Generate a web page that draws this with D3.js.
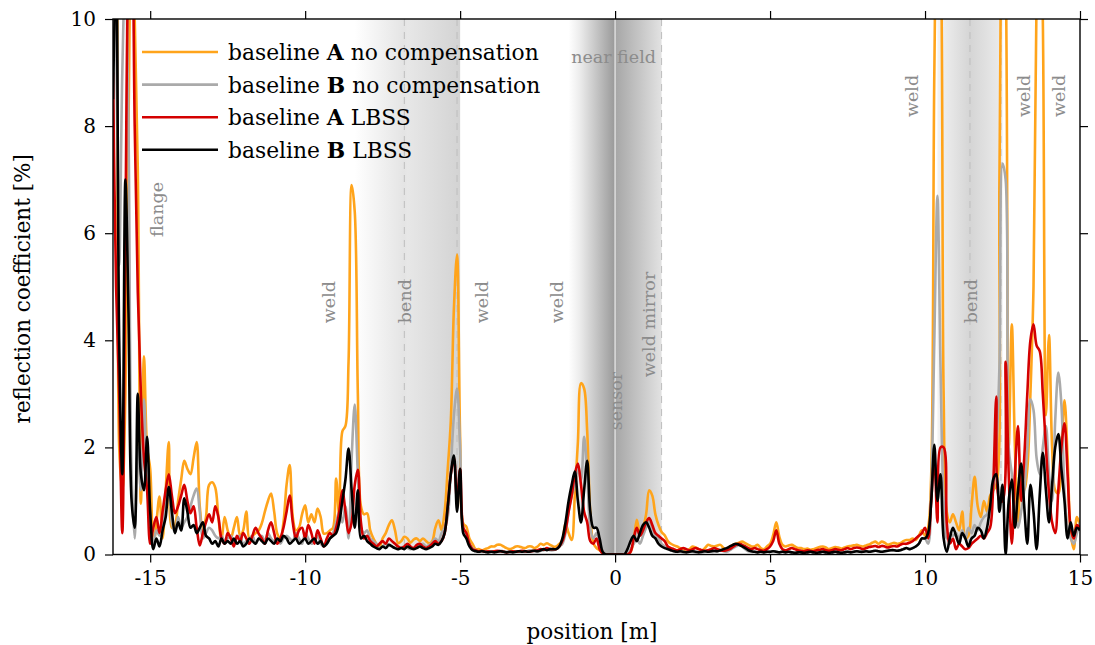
<!DOCTYPE html>
<html>
<head>
<meta charset="utf-8">
<script src="https://cdn.jsdelivr.net/npm/d3@7"></script>
<style>
body { margin: 0; background: #fff; }
svg { display: block; font-family: "DejaVu Serif", serif; }
</style>
</head>
<body>
<svg width="1095" height="645"></svg>
<script>
// sampled every 0.1 m, starting at -16.2 m
const xStart = -16.2
const xStep = 0.1

// baseline A, no compensation (orange)
const noCompA = [
  11, 12,
  2.0, 1.2, 3.0, 8, 12, 10, 7.2, 0.95, 3.7, 2.0,
  1.6, 0.15, 0.6, 1.08, 0.3, 1.2, 2.1, 0.5, 0.55, 1.0,
  1.4, 1.75, 1.6, 1.5, 1.8, 2.1, 0.9, 0.45, 0.7, 1.3,
  1.35, 1.25, 0.7, 0.27, 0.7, 0.45, 0.3, 0.5, 0.7, 0.35,
  0.45, 0.8, 0.3, 0.35, 0.4, 0.45, 0.58, 0.8, 1.0, 1.14,
  0.8, 0.39, 0.3, 0.6, 1.3, 1.67, 0.7, 0.45, 0.5, 0.75,
  0.92, 0.6, 0.75, 0.6, 0.86, 0.7, 0.39, 0.4, 0.45, 0.5,
  1.42, 0.7, 2.3, 2.4, 3.6, 6.9, 6.4, 3.0, 0.9, 0.75,
  0.77, 0.45, 0.3, 0.2, 0.15, 0.3, 0.4, 0.55, 0.64, 0.45,
  0.21, 0.25, 0.33, 0.3, 0.22, 0.28, 0.3, 0.25, 0.3, 0.25,
  0.21, 0.25, 0.5, 0.64, 0.46, 0.8, 1.6, 2.5, 4.6, 5.6,
  2.2, 0.58, 0.52, 0.3, 0.2, 0.1, 0.1, 0.08, 0.1, 0.12,
  0.15, 0.15, 0.18, 0.18, 0.15, 0.12, 0.1, 0.12, 0.15, 0.15,
  0.13, 0.12, 0.15, 0.15, 0.12, 0.15, 0.2, 0.18, 0.21, 0.18,
  0.15, 0.15, 0.2, 0.27, 0.58, 0.4, 0.27, 1.1, 2.1, 3.2,
  3.1, 2.3, 0.77, 0.21, 0.12, 0.08, 0.03, 0, 0, 0,
  0, 0, 0, 0, 0, 0.05, 0.25, 0.65, 0.4, 0.5,
  0.75, 1.2, 1.1, 0.75, 0.55, 0.42, 0.36, 0.25, 0.2, 0.17,
  0.15, 0.12, 0.1, 0.08, 0.1, 0.15, 0.13, 0.1, 0.08, 0.12,
  0.18, 0.16, 0.15, 0.17, 0.18, 0.12, 0.1, 0.14, 0.18, 0.2,
  0.22, 0.24, 0.21, 0.18, 0.15, 0.15, 0.18, 0.12, 0.1, 0.15,
  0.2, 0.36, 0.6, 0.33, 0.18, 0.15, 0.17, 0.18, 0.15, 0.12,
  0.12, 0.1, 0.11, 0.09, 0.1, 0.12, 0.14, 0.15, 0.13, 0.1,
  0.12, 0.14, 0.13, 0.11, 0.13, 0.15, 0.16, 0.17, 0.18, 0.16,
  0.15, 0.17, 0.19, 0.22, 0.24, 0.2, 0.24, 0.22, 0.18, 0.2,
  0.22, 0.2, 0.21, 0.25, 0.27, 0.27, 0.3, 0.27, 0.35, 0.45,
  0.35, 0.5, 1.5, 9, 12.5, 11.5, 3, 0.8, 0.6, 0.75,
  0.6, 0.45, 0.8, 0.3, 0.35, 0.9, 1.45, 0.9, 0.7, 1.0,
  0.8, 1.1, 1.2, 1.3, 7, 12.5, 11, 2.0, 4.3, 2.0,
  0.6, 1.5, 1.2, 1.6, 3.0, 5, 10.5, 12.5, 10, 2.6,
  4.1, 2.0, 1.2, 1.14, 2.0, 2.88, 1.8, 0.4, 0.1, 0.7,
  0.55
]

// baseline B, no compensation (grey)
const noCompB = [
  6, 11,
  5.4, 9, 11, 8, 1.5, 0.3, 2.0, 1.2, 2.9, 1.3,
  0.7, 0.2, 0.45, 0.35, 0.5, 0.9, 1.2, 0.6, 0.4, 0.7,
  0.5, 0.6, 0.7, 0.9, 1.1, 1.23, 0.8, 0.3, 0.4, 0.5,
  0.45, 0.35, 0.3, 0.35, 0.25, 0.3, 0.35, 0.25, 0.3, 0.35,
  0.2, 0.25, 0.3, 0.35, 0.2, 0.3, 0.35, 0.25, 0.4, 0.3,
  0.25, 0.3, 0.2, 0.3, 0.35, 0.3, 0.25, 0.4, 0.3, 0.2,
  0.4, 0.3, 0.2, 0.25, 0.35, 0.2, 0.15, 0.2, 0.3, 0.4,
  0.6, 0.8, 0.6, 0.9, 0.3, 1.8, 2.8, 1.5, 0.5, 0.4,
  0.45, 0.3, 0.25, 0.2, 0.12, 0.15, 0.2, 0.18, 0.15, 0.12,
  0.1, 0.12, 0.15, 0.12, 0.1, 0.12, 0.15, 0.18, 0.2, 0.15,
  0.18, 0.22, 0.3, 0.25, 0.4, 0.5, 0.7, 1.6, 2.6, 3.1,
  2.0, 0.5, 0.4, 0.2, 0.12, 0.08, 0.05, 0.06, 0.05, 0.04,
  0.05, 0.06, 0.05, 0.07, 0.06, 0.05, 0.04, 0.05, 0.06, 0.05,
  0.06, 0.05, 0.07, 0.08, 0.06, 0.05, 0.07, 0.08, 0.1, 0.08,
  0.08, 0.1, 0.15, 0.2, 0.4, 0.8, 1.1, 1.3, 1.6, 1.4,
  2.2, 1.5, 0.5, 0.3, 0.4, 0.2, 0.05, 0, 0, 0,
  0, 0, 0, 0, 0, 0.1, 0.2, 0.3, 0.2, 0.35,
  0.5, 0.62, 0.5, 0.35, 0.3, 0.2, 0.15, 0.1, 0.08, 0.06,
  0.05, 0.05, 0.04, 0.05, 0.06, 0.05, 0.04, 0.05, 0.04, 0.05,
  0.06, 0.05, 0.05, 0.06, 0.08, 0.06, 0.05, 0.08, 0.12, 0.15,
  0.18, 0.15, 0.1, 0.06, 0.05, 0.05, 0.04, 0.05, 0.04, 0.05,
  0.05, 0.06, 0.05, 0.04, 0.05, 0.04, 0.05, 0.04, 0.03, 0.04,
  0.04, 0.03, 0.04, 0.05, 0.04, 0.03, 0.04, 0.05, 0.04, 0.03,
  0.04, 0.05, 0.04, 0.03, 0.04, 0.05, 0.04, 0.05, 0.06, 0.05,
  0.05, 0.06, 0.05, 0.06, 0.07, 0.06, 0.05, 0.06, 0.07, 0.08,
  0.08, 0.07, 0.08, 0.1, 0.12, 0.1, 0.12, 0.15, 0.2, 0.3,
  0.3, 0.2, 1.2, 4.0, 6.7, 3.5, 1.0, 0.3, 0.4, 0.35,
  0.4, 0.3, 0.45, 0.3, 0.5, 0.4, 0.55, 0.45, 0.6, 0.7,
  0.75, 0.9, 1.2, 2.0, 3.5, 7.3, 7.0, 2.0, 1.5, 0.8,
  0.5, 0.8, 1.2, 2.0, 2.9, 2.7, 1.8, 1.5, 2.0, 2.4,
  1.5, 1.0, 2.5, 3.4, 2.8, 1.2, 0.5, 0.3, 0.2, 0.4,
  0.6
]

// baseline A, LBSS (red)
const lbssA = [
  9, 5,
  3, 0.4, 6, 11, 12, 8, 4.9, 3.0, 1.8, 1.2,
  0.2, 0.5, 0.7, 0.4, 0.8, 1.2, 1.5, 1.1, 0.77, 0.9,
  1.1, 1.3, 1.0, 0.77, 0.9, 0.5, 0.17, 0.4, 0.6, 0.75,
  0.6, 0.9, 0.7, 0.3, 0.2, 0.4, 0.3, 0.15, 0.35, 0.25,
  0.4, 0.3, 0.2, 0.35, 0.5, 0.39, 0.3, 0.2, 0.45, 0.6,
  0.4, 0.2, 0.3, 0.5, 0.8, 1.1, 0.6, 0.3, 0.45, 0.5,
  0.3, 0.55, 0.4, 0.2, 0.45, 0.3, 0.15, 0.3, 0.4, 0.35,
  0.5, 0.8, 1.2, 0.8, 0.4, 0.6, 1.3, 1.58, 0.6, 0.3,
  0.35, 0.25, 0.2, 0.15, 0.2, 0.25, 0.2, 0.3, 0.25, 0.2,
  0.15, 0.12, 0.15, 0.2, 0.15, 0.12, 0.18, 0.2, 0.15, 0.12,
  0.15, 0.2, 0.25, 0.2, 0.25, 0.4, 0.9, 1.5, 1.8, 1.0,
  1.6, 0.5, 0.4, 0.2, 0.1, 0.08, 0.06, 0.07, 0.05, 0.06,
  0.05, 0.06, 0.07, 0.06, 0.05, 0.04, 0.05, 0.06, 0.05, 0.06,
  0.07, 0.06, 0.05, 0.06, 0.07, 0.08, 0.1, 0.09, 0.12, 0.1,
  0.1, 0.1, 0.15, 0.25, 0.45, 0.8, 1.1, 1.5, 1.7, 1.3,
  0.8, 0.6, 0.25, 0.2, 0.3, 0.1, 0.02, 0, 0, 0,
  0, 0, 0, 0, 0, 0.05, 0.3, 0.5, 0.35, 0.45,
  0.6, 0.68, 0.55, 0.4, 0.35, 0.3, 0.25, 0.15, 0.12, 0.1,
  0.08, 0.1, 0.12, 0.1, 0.08, 0.1, 0.12, 0.1, 0.08, 0.07,
  0.08, 0.1, 0.12, 0.1, 0.08, 0.07, 0.08, 0.1, 0.14, 0.18,
  0.2, 0.18, 0.15, 0.12, 0.1, 0.12, 0.1, 0.08, 0.07, 0.1,
  0.15, 0.25, 0.45, 0.2, 0.1, 0.08, 0.1, 0.12, 0.1, 0.08,
  0.07, 0.06, 0.08, 0.07, 0.06, 0.08, 0.09, 0.1, 0.08, 0.07,
  0.08, 0.1, 0.09, 0.08, 0.1, 0.12, 0.1, 0.12, 0.13, 0.12,
  0.1, 0.12, 0.14, 0.15, 0.16, 0.14, 0.16, 0.15, 0.13, 0.15,
  0.16, 0.15, 0.18, 0.2, 0.2, 0.22, 0.25, 0.3, 0.35, 0.4,
  0.5, 0.3, 1.0, 1.8, 0.6, 2.0, 2.0, 0.6, 0.2, 0.3,
  0.1, 0.2, 0.15, 0.1, 0.12, 0.2, 0.25, 0.3, 0.35, 0.3,
  0.4, 0.5, 1.3, 2.95, 1.0, 1.0, 3.6, 1.5, 0.2, 1.5,
  2.4, 1.0, 1.8, 3.0, 4.0, 4.3, 3.9, 3.8, 3.0, 2.0,
  1.14, 0.6, 0.4, 1.2, 2.0, 2.45, 1.5, 0.5, 0.3, 0.55,
  0.5
]

// baseline B, LBSS (black)
const lbssB = [
  8.5, 11,
  4.0, 1.5, 7.0, 4.5, 1.0, 0.5, 3.0, 1.5, 1.2, 2.2,
  0.8, 0.1, 0.3, 0.15, 0.45, 0.7, 1.26, 0.8, 0.4, 0.6,
  0.45, 1.05, 0.8, 0.5, 0.55, 0.4, 0.5, 0.6, 0.35, 0.3,
  0.2, 0.25, 0.15, 0.3, 0.2, 0.25, 0.2, 0.3, 0.2, 0.25,
  0.15, 0.2, 0.3, 0.25, 0.2, 0.3, 0.25, 0.2, 0.3, 0.25,
  0.2, 0.3, 0.25, 0.35, 0.3, 0.2, 0.25, 0.3, 0.2, 0.25,
  0.3, 0.2, 0.25, 0.3, 0.2, 0.25, 0.15, 0.2, 0.3, 0.35,
  0.4, 0.6, 1.0, 1.4, 1.98, 1.2, 0.5, 1.2, 0.3, 0.35,
  0.25, 0.2, 0.15, 0.12, 0.1, 0.15, 0.12, 0.18, 0.15, 0.12,
  0.1, 0.12, 0.1, 0.15, 0.12, 0.1, 0.12, 0.15, 0.12, 0.1,
  0.12, 0.15, 0.2, 0.18, 0.25, 0.4, 0.9, 1.5, 1.85, 0.8,
  1.6, 0.4, 0.3, 0.15, 0.08, 0.06, 0.05, 0.06, 0.05, 0.04,
  0.05, 0.04, 0.05, 0.06, 0.05, 0.04, 0.05, 0.04, 0.05, 0.06,
  0.05, 0.06, 0.05, 0.06, 0.07, 0.06, 0.08, 0.1, 0.08, 0.1,
  0.1, 0.1, 0.15, 0.3, 0.6, 1.0, 1.3, 1.55, 1.0, 0.6,
  1.2, 1.75, 0.8, 0.5, 0.5, 0.3, 0.05, 0, 0, 0,
  0, 0, 0, 0, 0.1, 0.25, 0.35, 0.25, 0.4, 0.55,
  0.6, 0.5, 0.35, 0.3, 0.2, 0.15, 0.12, 0.1, 0.08, 0.06,
  0.05, 0.06, 0.05, 0.04, 0.05, 0.06, 0.05, 0.04, 0.05, 0.06,
  0.05, 0.06, 0.07, 0.06, 0.08, 0.1, 0.12, 0.15, 0.18, 0.2,
  0.18, 0.15, 0.12, 0.08, 0.06, 0.05, 0.04, 0.05, 0.04, 0.05,
  0.05, 0.06, 0.05, 0.04, 0.05, 0.04, 0.05, 0.04, 0.03, 0.04,
  0.04, 0.03, 0.04, 0.05, 0.04, 0.03, 0.04, 0.05, 0.04, 0.03,
  0.04, 0.05, 0.04, 0.03, 0.04, 0.05, 0.04, 0.05, 0.06, 0.05,
  0.05, 0.06, 0.05, 0.06, 0.07, 0.06, 0.05, 0.06, 0.07, 0.08,
  0.08, 0.07, 0.08, 0.1, 0.12, 0.1, 0.12, 0.15, 0.2, 0.3,
  0.3, 0.4, 1.0, 2.05, 1.0, 1.5, 0.3, 0.05, 0.3, 0.5,
  0.35, 0.2, 0.4, 0.3, 0.15, 0.3, 0.35, 0.5, 0.45, 0.3,
  0.5, 0.9, 1.4, 1.5, 0.8, 1.3, 0.0, 1.0, 1.4, 0.5,
  1.2, 1.7, 0.9, 0.2, 1.3, 0.8, 0.1, 1.1, 1.9, 1.2,
  0.6, 1.3, 2.0, 2.25, 1.6, 1.0, 0.3, 0.6, 0.35, 0.5,
  0.45
]

const xTicks = [-15, -10, -5, 0, 5, 10, 15]
const yTicks = [0, 2, 4, 6, 8, 10]

// shaded zones [from, to] in metres
const bendZone1 = [-8.4, -5.0]
const nearField = [-1.5, 1.5]
const bendZone2 = [10.4, 12.5]
const dashedMarks = [-6.8, -5.1, 1.5, 11.45, 12.45]

// rotated feature labels: text, position [m], lower end [%]
const featureText = ['flange', 'weld', 'bend', 'weld', 'weld', 'sensor', 'weld mirror', 'weld', 'bend', 'weld', 'weld']
const featureX = [-14.6, -9.03, -6.6, -4.1, -1.68, 0.22, 1.29, 9.77, 11.68, 13.39, 14.52]
const featureY = [5.93, 4.32, 4.32, 4.32, 4.32, 2.32, 3.31, 8.17, 4.32, 8.17, 8.17]

const positions = noCompA.map((d, i) => +(xStart + i * xStep).toFixed(2))

const series = [
    { key: 'A', text: ' no compensation', values: noCompA, color: '#ffa41b' },
    { key: 'B', text: ' no compensation', values: noCompB, color: '#aaaaaa' },
    { key: 'A', text: ' LBSS', values: lbssA, color: '#d40000' },
    { key: 'B', text: ' LBSS', values: lbssB, color: '#000000' }
]

const svg = d3.select('svg')
const margin = { top: 19, right: 15, bottom: 90.5, left: 113 }
const width = svg.attr('width') - margin.left - margin.right
const height = svg.attr('height') - margin.top - margin.bottom

const x = d3.scaleLinear().domain([-16.2, 15]).range([0, width])
const y = d3.scaleLinear().domain([0, 10]).range([height, 0])

const defs = svg.append('defs')
defs.append('clipPath').attr('id', 'plot-clip')
    .append('rect').attr('width', width).attr('height', height)

const gradient = (id, stops) => {
    const lg = defs.append('linearGradient').attr('id', id)
        .attr('x1', 0).attr('x2', 1).attr('y1', 0).attr('y2', 0)
    stops.forEach(s => lg.append('stop').attr('offset', s[0]).attr('stop-color', s[1]))
}
gradient('bend1', [[0, '#ffffff'], [0.47, '#e4e4e4'], [0.5, '#e7e7e7'], [1, '#d3d3d3']])
gradient('near', [[0, '#ffffff'], [0.12, '#ececec'], [0.49, '#9b9b9b'], [0.5, '#a6a6a6'], [1, '#e2e2e2']])
gradient('bend2', [[0, '#f3f3f3'], [0.5, '#d5d5d5'], [1, '#ececec']])

const g = svg.append('g').attr('transform', `translate(${margin.left},${margin.top})`)

const zones = g.append('g').attr('clip-path', 'url(#plot-clip)')
;[[bendZone1, 'bend1'], [nearField, 'near'], [bendZone2, 'bend2']].forEach(([z, id]) => {
    zones.append('rect')
        .attr('x', x(z[0])).attr('width', x(z[1]) - x(z[0]))
        .attr('y', 0).attr('height', height)
        .attr('fill', `url(#${id})`)
})
zones.append('line')
    .attr('x1', x(0)).attr('x2', x(0)).attr('y1', 0).attr('y2', height)
    .attr('stroke', '#dcdcdc').attr('stroke-width', 1.5)
zones.selectAll('.dash')
    .data(dashedMarks)
    .enter().append('line')
    .attr('class', 'dash')
    .attr('x1', d => x(d)).attr('x2', d => x(d))
    .attr('y1', 0).attr('y2', height)
    .attr('stroke', '#bdbdbd').attr('stroke-width', 1)
    .attr('stroke-dasharray', '7,6')

// the zones are hidden below the LBSS curve
const curve = d3.curveCatmullRom.alpha(0.5)
zones.append('path')
    .attr('d', d3.area()
        .x((d, i) => x(positions[i]))
        .y0(height)
        .y1(d => y(d))
        .curve(curve)(lbssB))
    .attr('fill', '#fff')

// feature labels
g.selectAll('.feature')
    .data(featureText)
    .enter().append('text')
    .attr('class', 'feature')
    .attr('transform', (d, i) => `translate(${x(featureX[i])},${y(featureY[i])}) rotate(-90)`)
    .attr('fill', '#8c8c8c')
    .attr('font-size', 17.5)
    .text(d => d)

g.append('text')
    .attr('x', x(-0.05)).attr('y', y(9.18))
    .attr('text-anchor', 'middle')
    .attr('fill', '#8c8c8c')
    .attr('font-size', 17.5)
    .text('near field')

// curves
const line = d3.line()
    .x((d, i) => x(positions[i]))
    .y(d => y(d))
    .curve(curve)

const curves = g.append('g').attr('clip-path', 'url(#plot-clip)')
curves.selectAll('.curve')
    .data(series)
    .enter().append('path')
    .attr('class', 'curve')
    .attr('d', d => line(d.values))
    .attr('fill', 'none')
    .attr('stroke', d => d.color)
    .attr('stroke-width', 2.6)
    .attr('stroke-linejoin', 'round')

// frame and ticks on all four sides
g.append('rect')
    .attr('width', width).attr('height', height)
    .attr('fill', 'none').attr('stroke', '#000').attr('stroke-width', 1.4)

const tickLen = 8
g.append('g').attr('transform', `translate(0,${height})`)
    .call(d3.axisBottom(x).tickValues(xTicks).tickSize(tickLen).tickPadding(8).tickFormat(d3.format('d')))
g.append('g')
    .call(d3.axisTop(x).tickValues(xTicks).tickSize(tickLen).tickFormat(''))
g.append('g')
    .call(d3.axisLeft(y).tickValues(yTicks).tickSize(tickLen).tickPadding(9).tickFormat(d3.format('d')))
g.append('g').attr('transform', `translate(${width},0)`)
    .call(d3.axisRight(y).tickValues(yTicks).tickSize(tickLen).tickFormat(''))

g.selectAll('.domain').remove()
g.selectAll('.tick line').attr('stroke', '#000').attr('stroke-width', 1.2)
g.selectAll('.tick text')
    .attr('font-family', '"DejaVu Serif", serif')
    .attr('font-size', 20)
    .attr('fill', '#000')
    .text(function () { return d3.select(this).text().replace('−', '-') })

// axis titles
svg.append('text')
    .attr('x', 592).attr('y', 639)
    .attr('text-anchor', 'middle')
    .attr('font-size', 21.5)
    .text('position [m]')

svg.append('text')
    .attr('transform', `translate(30,${margin.top + height / 2 + 2}) rotate(-90)`)
    .attr('text-anchor', 'middle')
    .attr('font-size', 21.5)
    .text('reflection coefficient [%]')

// legend
const legend = svg.append('g').attr('transform', 'translate(142,52)')
const item = legend.selectAll('.item')
    .data(series)
    .enter().append('g')
    .attr('class', 'item')
    .attr('transform', (d, i) => `translate(0,${i * 32.6})`)

item.append('line')
    .attr('x1', 0).attr('x2', 76)
    .attr('stroke', d => d.color).attr('stroke-width', 2.6)

const label = item.append('text')
    .attr('x', 86).attr('y', 8)
    .attr('font-size', 21.8)
label.append('tspan').text('baseline ')
label.append('tspan').attr('font-weight', 'bold').text(d => d.key)
label.append('tspan').text(d => d.text)
</script>
</body>
</html>
